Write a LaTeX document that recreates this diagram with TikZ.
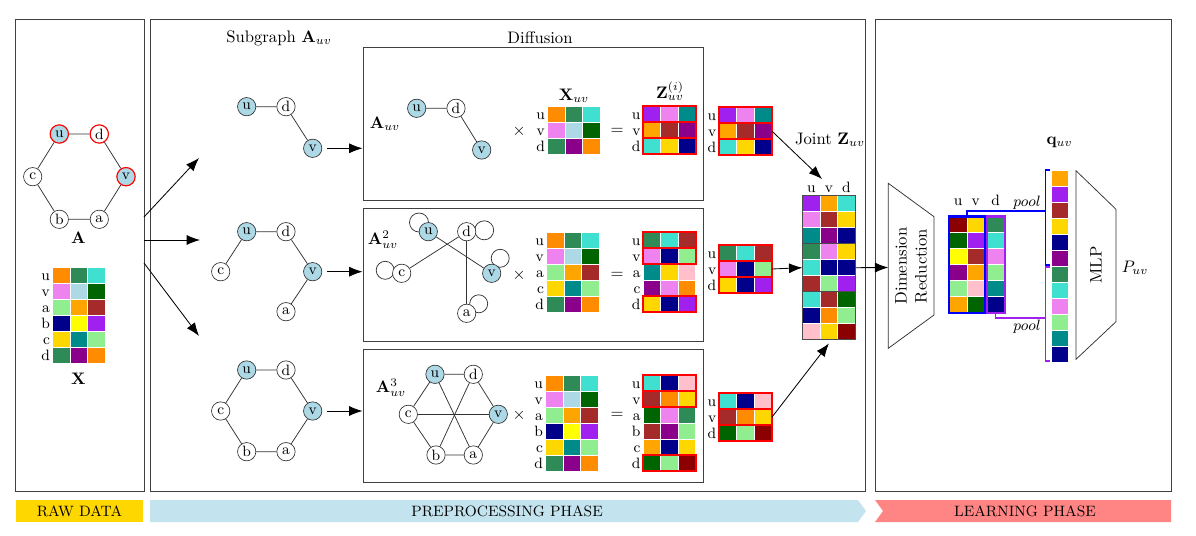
\documentclass[tikz,border=0pt]{standalone}
\usetikzlibrary{arrows.meta,fit,backgrounds}
\definecolor{cOrgD}{HTML}{FF8C00}
\definecolor{cSea}{HTML}{2E8B57}
\definecolor{cTurq}{HTML}{40E0D0}
\definecolor{cViol}{HTML}{EE82EE}
\definecolor{cLBlue}{HTML}{ADD8E6}
\definecolor{cDGreen}{HTML}{006400}
\definecolor{cLGreen}{HTML}{90EE90}
\definecolor{cOrg}{HTML}{FFA500}
\definecolor{cBrown}{HTML}{A52A2A}
\definecolor{cNavy}{HTML}{00008B}
\definecolor{cYellow}{HTML}{FFFF00}
\definecolor{cPurp}{HTML}{A020F0}
\definecolor{cGold}{HTML}{FFD700}
\definecolor{cDCyan}{HTML}{008B8B}
\definecolor{cDMag}{HTML}{8B008B}
\definecolor{cPink}{HTML}{FFC0CB}
\definecolor{cDRed}{HTML}{8B0000}
\definecolor{bnBlue}{HTML}{C3E3EE}
\definecolor{bnRed}{HTML}{FF8585}
\newcommand{\cellw}{17.5}
\newcommand{\cellh}{16}
\newcommand{\featcells}[4]{%
  \foreach [count=\ri] \rw in {#4} {
    \foreach [count=\ci] \col in \rw {
      \fill[\col, draw=white, line width=0.4pt] ({#2+(\ci-1)*\cellw},{#3+(\ri-1)*\cellh}) rectangle ++(\cellw,\cellh);
      \xdef\nrows{\ri}\xdef\ncols{\ci}
    }
  }
  \node[fit={(#2,#3)({#2+\ncols*\cellw},{#3+\nrows*\cellh})}, inner sep=0pt] (#1) {};
}
\newcommand{\rowlbls}[4]{%
  \foreach [count=\ri] \lb in {#4}
    \node[rowlbl] (#1-\lb) at ({#2-1.5},{#3+(\ri-0.5)*\cellh}) {\lb};
}
\newcommand{\hlrow}[3]{\draw[hl] (#1,{#2+(#3-1)*\cellh}) rectangle ++({3*\cellw},\cellh);}
\tikzset{
  vtx/.style={circle, draw=black!80, fill=white, inner sep=0pt, minimum size=11pt, font=\small},
  tgt/.style={fill=cLBlue},
  sel/.style={draw=red, line width=0.7pt},
  lnk/.style={draw=black!80, line width=0.45pt},
  arr/.style={-{Latex[length=8pt,width=6pt]}, line width=0.5pt},
  panel/.style={draw=black!75, line width=0.6pt, inner sep=0pt},
  rowlbl/.style={font=\small, anchor=east, inner sep=0.6pt, text height=1.5ex, text depth=0pt},
  collbl/.style={font=\small, inner sep=0.6pt, text height=1.5ex, text depth=0pt},
  hl/.style={draw=red, line width=1.2pt},
  grp/.style={draw=black!70, line width=0.8pt},
  poolb/.style={draw=blue, line width=0.8pt},
  poolp/.style={draw=cPurp, line width=0.8pt},
  bnr/.style={font=\small, inner sep=1pt}
}
\begin{document}
\begin{tikzpicture}[x=0.6pt, y=-0.6pt]
\useasboundingbox (0,0) rectangle (1196,536);

\node[panel, fit={(15,20)(144,491)}] (rawp) {};
\node[panel, fit={(150,20)(865,491)}] (prep) {};
\node[panel, fit={(875,20)(1171,491)}] (learn) {};
\node[panel, fit={(363,48)(703,201)}] (dif1) {};
\node[panel, fit={(363,209)(703,342)}] (dif2) {};
\node[panel, fit={(363,350)(703,482)}] (dif3) {};

\node[vtx, sel, tgt] (au) at (59.3,134) {u};
\node[vtx, sel] (ad) at (99.3,134) {d};
\node[vtx, sel, tgt] (av) at (126,176.7) {v};
\node[vtx] (ac) at (32.7,176.7) {c};
\node[vtx] (ab) at (59.3,219.3) {b};
\node[vtx] (aa) at (99.3,219.3) {a};
\draw[lnk] (au) -- (ad) -- (av) -- (aa) -- (ab) -- (ac) -- (au);
\node (albl) at (78.3,238) {$\mathbf{A}$};
\featcells{xall}{52.7}{267}{{cOrgD,cSea,cTurq},{cViol,cLBlue,cDGreen},{cLGreen,cOrg,cBrown},{cNavy,cYellow,cPurp},{cGold,cDCyan,cLGreen},{cSea,cDMag,cOrgD}}
\rowlbls{xall}{52.7}{267}{u,v,a,b,c,d}
\node (xlbl) at (78.3,379) {$\mathbf{X}$};

\coordinate (r1) at (144,217);
\coordinate (r2) at (144,240);
\coordinate (r3) at (144,263);
\coordinate (t1) at (199,158);
\coordinate (t2) at (200,240);
\coordinate (t3) at (199,336);
\draw[arr] (r1) -- (t1);
\draw[arr] (r2) -- (t2);
\draw[arr] (r3) -- (t3);

\node (sglbl) at (279,38) {Subgraph $\mathbf{A}_{uv}$};
\node (diflbl) at (540,38) {Diffusion};

\node[vtx, tgt] (s1u) at (246.7,106.7) {u};
\node[vtx] (s1d) at (286,106.7) {d};
\node[vtx, tgt] (s1v) at (312.7,148.3) {v};
\draw[lnk] (s1u) -- (s1d) -- (s1v);

\node[vtx, tgt] (s2u) at (246.7,231.7) {u};
\node[vtx] (s2d) at (286,231.7) {d};
\node[vtx] (s2c) at (220.7,271.7) {c};
\node[vtx, tgt] (s2v) at (312.7,271.7) {v};
\node[vtx] (s2a) at (286,311.7) {a};
\draw[lnk] (s2c) -- (s2u) -- (s2d) -- (s2v) -- (s2a);

\node[vtx, tgt] (s3u) at (246.7,370) {u};
\node[vtx] (s3d) at (286,370) {d};
\node[vtx] (s3c) at (220.7,411) {c};
\node[vtx, tgt] (s3v) at (312.7,411) {v};
\node[vtx] (s3b) at (246.7,451.7) {b};
\node[vtx] (s3a) at (286,451.7) {a};
\draw[lnk] (s3u) -- (s3d) -- (s3v) -- (s3a) -- (s3b) -- (s3c) -- (s3u);

\draw[arr] ([xshift=3pt]s1v.east) -- (s1v -| dif1.west);
\draw[arr] ([xshift=3pt]s2v.east) -- (s2v -| dif2.west);
\draw[arr] ([xshift=3pt]s3v.east) -- (s3v -| dif3.west);

\node (a1lbl) at (385,124) {$\mathbf{A}_{uv}$};
\node[vtx, tgt] (g1u) at (416.7,108.3) {u};
\node[vtx] (g1d) at (456,108.3) {d};
\node[vtx, tgt] (g1v) at (481.7,150) {v};
\draw[lnk] (g1u) -- (g1d) -- (g1v);
\node (mul1) at (519,131) {$\times$};
\node (x1lbl) at (574,96) {$\mathbf{X}_{uv}$};
\featcells{x1}{547.7}{106}{{cOrgD,cSea,cTurq},{cViol,cLBlue,cDGreen},{cSea,cDMag,cOrgD}}
\rowlbls{x1}{547.7}{106}{u,v,d}
\node (eq1) at (617,131) {$=$};
\node (z1lbl) at (670,91) {$\mathbf{Z}^{(i)}_{uv}$};
\featcells{z1}{643.3}{106}{{cPurp,cViol,cDCyan},{cOrg,cBrown,cDMag},{cTurq,cGold,cNavy}}
\rowlbls{z1}{643.3}{106}{u,v,d}
\hlrow{643.3}{106}{1}
\hlrow{643.3}{106}{2}
\hlrow{643.3}{106}{3}

\node (a2lbl) at (383,240) {$\mathbf{A}^{2}_{uv}$};
\node[vtx, tgt] (g2u) at (428.3,231.7) {u};
\node[vtx] (g2d) at (466.7,231.7) {d};
\node[vtx] (g2c) at (401.7,273.3) {c};
\node[vtx, tgt] (g2v) at (491.7,273.3) {v};
\node[vtx] (g2a) at (466.7,313.3) {a};
\draw[lnk] (g2u) -- (g2v);
\draw[lnk] (g2d) -- (g2c);
\draw[lnk] (g2d) -- (g2a);
\begin{scope}[on background layer]
\draw[lnk] ([shift={(-9.3,-9.2)}]g2u.center) circle[radius=9.5];
\draw[lnk] ([shift={(17.5,-1.4)}]g2d.center) circle[radius=9.5];
\draw[lnk] ([shift={(-16.5,-3)}]g2c.center) circle[radius=9];
\draw[lnk] ([shift={(8.5,-15)}]g2v.center) circle[radius=9];
\draw[lnk] ([shift={(12,-9.5)}]g2a.center) circle[radius=9];
\end{scope}
\node (mul2) at (519,275) {$\times$};
\featcells{x2}{546.7}{232.3}{{cOrgD,cSea,cTurq},{cViol,cLBlue,cDGreen},{cLGreen,cOrg,cBrown},{cGold,cDCyan,cLGreen},{cSea,cDMag,cOrgD}}
\rowlbls{x2}{546.7}{232.3}{u,v,a,c,d}
\node (eq2) at (617,275) {$=$};
\featcells{z2}{643.3}{232.3}{{cSea,cTurq,cBrown},{cViol,cNavy,cLGreen},{cDCyan,cGold,cPink},{cDMag,cViol,cOrgD},{cGold,cNavy,cPurp}}
\rowlbls{z2}{643.3}{232.3}{u,v,a,c,d}
\hlrow{643.3}{232.3}{1}
\hlrow{643.3}{232.3}{2}
\hlrow{643.3}{232.3}{5}

\node (a3lbl) at (391,388) {$\mathbf{A}^{3}_{uv}$};
\node[vtx, tgt] (g3u) at (435,374.3) {u};
\node[vtx] (g3d) at (473.3,374.3) {d};
\node[vtx] (g3c) at (408.3,414.3) {c};
\node[vtx, tgt] (g3v) at (498.3,414.3) {v};
\node[vtx] (g3b) at (436,455) {b};
\node[vtx] (g3a) at (473.3,455) {a};
\draw[lnk] (g3u) -- (g3d) -- (g3v) -- (g3a) -- (g3b) -- (g3c) -- (g3u);
\draw[lnk] (g3u) -- (g3a);
\draw[lnk] (g3d) -- (g3b);
\draw[lnk] (g3c) -- (g3v);
\node (mul3) at (519,415) {$\times$};
\featcells{x3}{545.7}{375}{{cOrgD,cSea,cTurq},{cViol,cLBlue,cDGreen},{cLGreen,cOrg,cBrown},{cNavy,cYellow,cPurp},{cGold,cDCyan,cLGreen},{cSea,cDMag,cOrgD}}
\rowlbls{x3}{545.7}{375}{u,v,a,b,c,d}
\node (eq3) at (617,415) {$=$};
\featcells{z3}{643.3}{375}{{cTurq,cNavy,cPink},{cBrown,cOrgD,cGold},{cDGreen,cViol,cSea},{cBrown,cDMag,cLGreen},{cOrg,cNavy,cGold},{cDGreen,cLGreen,cDRed}}
\rowlbls{z3}{643.3}{375}{u,v,a,b,c,d}
\hlrow{643.3}{375}{1}
\hlrow{643.3}{375}{2}
\hlrow{643.3}{375}{6}

\featcells{z1x}{719}{107}{{cPurp,cViol,cDCyan},{cOrg,cBrown,cDMag},{cTurq,cGold,cNavy}}
\rowlbls{z1x}{719}{107}{u,v,d}
\foreach \k in {1,2,3} {\hlrow{719}{107}{\k}}
\featcells{z2x}{719}{245}{{cSea,cTurq,cBrown},{cViol,cNavy,cLGreen},{cGold,cNavy,cPurp}}
\rowlbls{z2x}{719}{245}{u,v,d}
\foreach \k in {1,2,3} {\hlrow{719}{245}{\k}}
\featcells{z3x}{719}{393.3}{{cTurq,cNavy,cPink},{cBrown,cOrgD,cGold},{cDGreen,cLGreen,cDRed}}
\rowlbls{z3x}{719}{393.3}{u,v,d}
\foreach \k in {1,2,3} {\hlrow{719}{393.3}{\k}}

\node (jlbl) at (830,140) {Joint $\mathbf{Z}_{uv}$};
\featcells{jz}{802.7}{195.7}{{cPurp,cOrg,cTurq},{cViol,cBrown,cGold},{cDCyan,cDMag,cNavy},{cSea,cViol,cGold},{cTurq,cNavy,cNavy},{cBrown,cLGreen,cPurp},{cTurq,cBrown,cDGreen},{cNavy,cOrgD,cLGreen},{cPink,cGold,cDRed}}
\foreach [count=\k] \lb in {u,v,d}
  \node[collbl] (jz-\lb) at ({802.7+(\k-0.5)*\cellw},187) {\lb};
\foreach \g in {0,1,2}
  \draw[grp] (802.7,{195.7+\g*48}) rectangle ++({3*\cellw},48);
\coordinate (jin) at (822,179);
\draw[arr] (z1x.east) -- (jin);
\draw[arr] (z2x.east) -- (jz.west);
\draw[arr] (z3x.east) -- ([yshift=-2pt]jz.south);

\coordinate (drin) at (888.3,267.5);
\draw[arr] (jz.east) -- (drin);
\draw[lnk] (888.3,183.3) -- (934,216.7) -- (934,315) -- (888.3,348.3) -- cycle;
\node[rotate=90, align=center] (drtxt) at (911,266) {Dimension\\Reduction};

\featcells{uvm}{949.5}{216.7}{{cDRed,cGold},{cDGreen,cPurp},{cYellow,cBrown},{cDMag,cOrg},{cLGreen,cPink},{cOrg,cDGreen}}
\featcells{dm}{987}{216.7}{{cSea},{cTurq},{cViol},{cLGreen},{cDCyan},{cNavy}}
\draw[poolb, line width=1.4pt] (uvm.south west) rectangle (uvm.north east);
\draw[poolp, line width=1.4pt] (dm.south west) rectangle (dm.north east);
\node[collbl] (uvm-u) at (958.25,200) {u};
\node[collbl] (uvm-v) at (975.75,200) {v};
\node[collbl] (dm-d) at (995.75,200) {d};

\node (qlbl) at (1059.5,142) {$\mathbf{q}_{uv}$};
\featcells{q}{1051}{170}{{cOrg},{cPurp},{cBrown},{cGold},{cNavy},{cDMag},{cSea},{cTurq},{cViol},{cLGreen},{cDCyan},{cNavy}}
\draw[poolb] (uvm.north) |- (1045.7,211);
\draw[poolb] (1050,170) -- (1045.7,170) -- (1045.7,265) -- (1050,265);
\draw[poolp] (dm.south) |- (1045.7,318);
\draw[poolp] (1050,267) -- (1045.7,267) -- (1045.7,361) -- (1050,361);
\node[font=\small] (pool1) at (1027,203) {$pool$};
\node[font=\small] (pool2) at (1027,327) {$pool$};

\draw[lnk] (1076,170.7) -- (1116,209.3) -- (1116,321.7) -- (1076,359.3) -- cycle;
\node[rotate=90] (mlp) at (1096,265) {MLP};
\node (puv) at (1135,268) {$P_{uv}$};

\fill[cGold] (16,500) rectangle (143,522);
\node[bnr] (braw) at (79.5,511) {RAW DATA};
\fill[bnBlue] (150,500) -- (858,500) -- (866,511) -- (858,522) -- (150,522) -- cycle;
\node[bnr] (bpre) at (507,511) {PREPROCESSING PHASE};
\fill[bnRed] (875,500) -- (1171,500) -- (1171,522) -- (875,522) -- (883,511) -- cycle;
\node[bnr] (blearn) at (1025,511) {LEARNING PHASE};
\end{tikzpicture}
\end{document}
